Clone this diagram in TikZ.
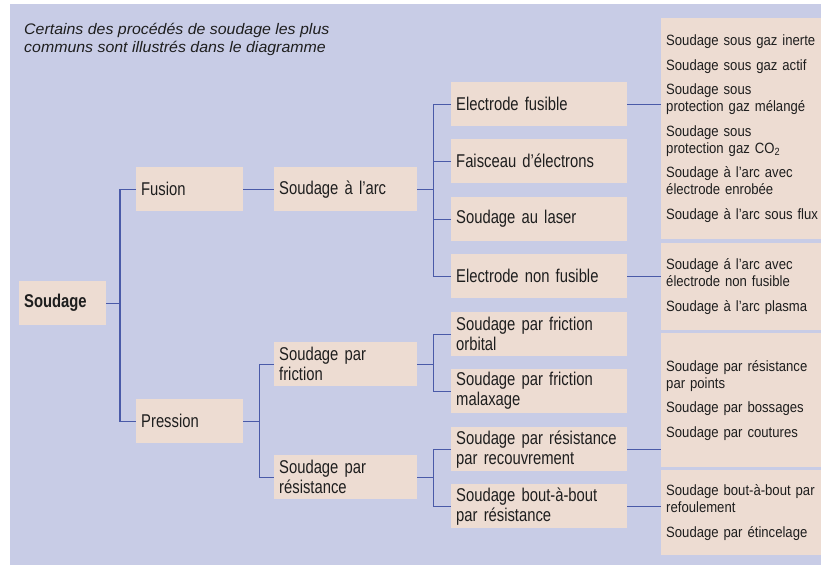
\documentclass[tikz,border=0pt]{standalone}
\usepackage{fontspec}
\setmainfont{Liberation Sans}
\newfontfamily\treefont[FakeStretch=0.8,WordSpace=0.85]{Liberation Sans}
\newfontfamily\listfont[FakeStretch=0.88,WordSpace=0.85]{Liberation Sans}
\newfontfamily\titlefont[FakeStretch=1.04]{Liberation Sans}
\definecolor{bgc}{HTML}{C8CCE6}
\definecolor{boxc}{HTML}{EDDCD2}
\definecolor{linec}{HTML}{4A5AA8}
\definecolor{txtc}{HTML}{1E1E1E}
\begin{document}
\begin{tikzpicture}[x=1pt,y=-1pt,
  tbox/.style={rectangle, fill=boxc, anchor=north west, align=left, inner xsep=5pt, inner ysep=0pt,
    text=txtc, minimum height=44pt, font=\treefont\fontsize{18.5}{20}\selectfont},
  lbox/.style={rectangle, fill=boxc, anchor=north west, align=left, inner xsep=5pt, inner ysep=0pt,
    text=txtc, text width=165pt, font=\listfont\fontsize{14.9}{17}\selectfont},
  conn/.style={draw=linec, line width=1.35pt}]
\useasboundingbox (0,0) rectangle (821,565);
\fill[white] (0,0) rectangle (821,565);
\fill[bgc] (10,4) rectangle (821,565);
% title
\node[anchor=north west, inner sep=0pt, align=left, text=txtc,
  font=\titlefont\itshape\fontsize{15.3}{18}\selectfont] (title) at (24,23)
  {Certains des procédés de soudage les plus\\communs sont illustrés dans le diagramme};
% level 0-2
\node[tbox, text width=77pt, font=\treefont\bfseries\fontsize{18.5}{20}\selectfont] (soud) at (19,281) {Soudage};
\node[tbox, text width=97pt] (fusion) at (136,167) {Fusion};
\node[tbox, text width=97pt] (pression) at (136,399) {Pression};
\node[tbox, text width=133pt] (arc) at (274,167) {Soudage à l’arc};
\node[tbox, text width=133pt] (friction) at (274,342) {Soudage par\\friction};
\node[tbox, text width=133pt] (resist) at (274,455) {Soudage par\\résistance};
% level 3
\node[tbox, text width=166pt] (ef) at (451,82) {Electrode fusible};
\node[tbox, text width=166pt] (fe) at (451,139) {Faisceau d’électrons};
\node[tbox, text width=166pt] (laser) at (451,197) {Soudage au laser};
\node[tbox, text width=166pt] (enf) at (451,254) {Electrode non fusible};
\node[tbox, text width=166pt] (fo) at (451,312) {Soudage par friction\\orbital};
\node[tbox, text width=166pt] (fm) at (451,369) {Soudage par friction\\malaxage};
\node[tbox, text width=166pt] (rr) at (451,427) {Soudage par résistance\\par recouvrement};
\node[tbox, text width=166pt] (bb) at (451,484) {Soudage bout-à-bout\\par résistance};
% right column
\node[lbox, minimum height=221pt] (r1) at (661,18)
  {Soudage sous gaz inerte\\[7.6pt]Soudage sous gaz actif\\[7.6pt]Soudage sous\\protection gaz mélangé\\[7.6pt]Soudage sous\\protection gaz CO\textsubscript{2}\\[7.6pt]Soudage à l’arc avec\\électrode enrobée\\[7.6pt]Soudage à l’arc sous flux};
\node[lbox, minimum height=87pt] (r2) at (661,243)
  {Soudage á l’arc avec\\électrode non fusible\\[7.6pt]Soudage à l’arc plasma};
\node[lbox, minimum height=134pt] (r3) at (661,333)
  {Soudage par résistance\\par points\\[7.6pt]Soudage par bossages\\[7.6pt]Soudage par coutures};
\node[lbox, minimum height=85pt] (r4) at (661,470)
  {Soudage bout-à-bout par\\refoulement\\[7.6pt]Soudage par étincelage};
% connectors
\draw[conn] (soud.east) -- ++(13.5,0) coordinate (j1);
\draw[conn] (fusion.west) -| (j1) |- (pression.west);
\draw[conn] (fusion.east) -- (arc.west);
\draw[conn] (pression.east) -- ++(16,0) coordinate (j2);
\draw[conn] (friction.west) -| (j2) |- (resist.west);
\draw[conn] (arc.east) -- ++(16,0) coordinate (j3);
\draw[conn] (ef.west) -| (j3) |- (enf.west);
\draw[conn] (fe.west) -- (fe.west -| j3);
\draw[conn] (laser.west) -- (laser.west -| j3);
\draw[conn] (friction.east) -- ++(16,0) coordinate (j4);
\draw[conn] (fo.west) -| (j4) |- (fm.west);
\draw[conn] (resist.east) -- ++(16,0) coordinate (j5);
\draw[conn] (rr.west) -| (j5) |- (bb.west);
\draw[conn] (ef.east) -- (ef.east -| r1.west);
\draw[conn] (enf.east) -- (enf.east -| r2.west);
\draw[conn] (rr.east) -- (rr.east -| r3.west);
\draw[conn] (bb.east) -- (bb.east -| r4.west);
\end{tikzpicture}
\end{document}
